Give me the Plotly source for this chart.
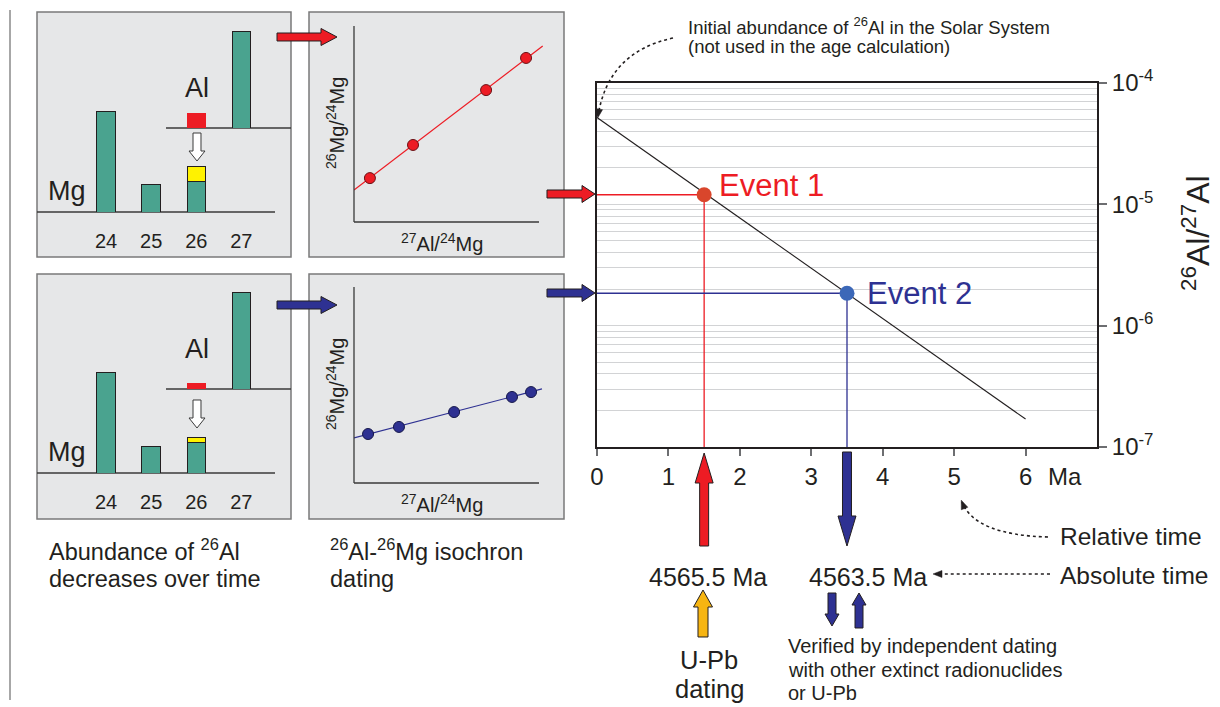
import math
import plotly.graph_objects as go

W, H = 1220, 707


def X(p):
    return p / W


def Y(p):
    return 1 - p / H


# ---------------- data ----------------
mass_numbers = [24, 25, 26, 27]
mass_labels = ["24", "25", "26", "27"]
mg_isotopes = [24, 25, 26]

# early stage (top left panel), arbitrary abundance units
mg_early = [101, 28, 31]
mg26_excess_early = [15]
al26_early = [15]
al27_early = [97]
# later stage (bottom left panel)
mg_late = [101, 27, 31]
mg26_excess_late = [5]
al26_late = [6]
al27_late = [97]

# isochrons
iso1_x = [0.86, 3.19, 7.14, 9.30]
iso1_y = [2.24, 3.93, 6.73, 8.37]
iso1_fit_x = [0, 10.2]
iso1_fit_y = [1.63, 8.98]
iso2_x = [0.76, 2.43, 5.41, 8.54, 9.57]
iso2_y = [2.50, 2.86, 3.62, 4.39, 4.64]
iso2_fit_x = [0, 10.16]
iso2_fit_y = [2.30, 4.80]

# main decay plot
decay_t = [0, 6]
decay_ratio = [5.2e-5, 1.7e-7]
event_t = [1.5, 3.5]
event_ratio = [1.2e-5, 1.85e-6]
event_names = ["Event 1", "Event 2"]
event_ages = ["4565.5 Ma", "4563.5 Ma"]
x_ticks = [0, 1, 2, 3, 4, 5, 6]
y_ticks = [1e-7, 1e-6, 1e-5, 1e-4]
y_ticktext = ["10<sup>-7</sup>", "10<sup>-6</sup>", "10<sup>-5</sup>", "10<sup>-4</sup>"]

# ---------------- style ----------------
FONT = "Liberation Sans, Arial, sans-serif"
TXT = "#231f20"
TEAL = "#4aa38f"
RED = "#ed1c24"
BLUE = "#2e3192"
YEL = "#fff200"
ORANGE = "#f7b512"
PANEL = "#e6e7e8"
EDGE = "#231f20"

XR = (0, 7)
XD = (597, 1097)


def xpx(t):
    return XD[0] + (t - XR[0]) / (XR[1] - XR[0]) * (XD[1] - XD[0])


fig = go.Figure()

# ---------- bar panels ----------
def bar_panel(xa, ya_mg, ya_al, mg, excess, al26, al27):
    fig.add_trace(go.Bar(x=mg_isotopes, y=mg, width=0.41, marker=dict(color=TEAL, line=dict(color=EDGE, width=1)),
                         xaxis=xa, yaxis=ya_mg, showlegend=False, hoverinfo="skip"))
    fig.add_trace(go.Bar(x=[26], y=excess, width=0.41, marker=dict(color=YEL, line=dict(color=EDGE, width=1)),
                         xaxis=xa, yaxis=ya_mg, showlegend=False, hoverinfo="skip"))
    fig.add_trace(go.Bar(x=[26], y=al26, width=0.41, marker=dict(color=RED, line=dict(color=RED, width=0.5)),
                         xaxis=xa, yaxis=ya_al, showlegend=False, hoverinfo="skip"))
    fig.add_trace(go.Bar(x=[27], y=al27, width=0.41, marker=dict(color=TEAL, line=dict(color=EDGE, width=1)),
                         xaxis=xa, yaxis=ya_al, showlegend=False, hoverinfo="skip"))


bar_panel("x2", "y2", "y3", mg_early, mg26_excess_early, al26_early, al27_early)
bar_panel("x3", "y4", "y5", mg_late, mg26_excess_late, al26_late, al27_late)


# ---------- isochron panels ----------
def iso_panel(xa, ya, xs, ys, fx, fy, col, mline):
    fig.add_trace(go.Scatter(x=fx, y=fy, mode="lines", line=dict(color=col, width=1.2),
                             xaxis=xa, yaxis=ya, showlegend=False, hoverinfo="skip"))
    fig.add_trace(go.Scatter(x=xs, y=ys, mode="markers",
                             marker=dict(size=11, color=col, line=dict(color=mline, width=1)),
                             xaxis=xa, yaxis=ya, showlegend=False, cliponaxis=False))


iso_panel("x4", "y6", iso1_x, iso1_y, iso1_fit_x, iso1_fit_y, RED, "#6b1014")
iso_panel("x5", "y7", iso2_x, iso2_y, iso2_fit_x, iso2_fit_y, BLUE, "#15174a")

# ---------- main decay plot ----------
fig.add_trace(go.Scatter(x=decay_t, y=decay_ratio, mode="lines", line=dict(color=TXT, width=1.1),
                         xaxis="x", yaxis="y", showlegend=False))
ev_cols = [RED, BLUE]
ev_fill = ["#d9462c", "#3c68b8"]
for t, r, c in zip(event_t, event_ratio, ev_cols):
    fig.add_trace(go.Scatter(x=[0, t, t], y=[r, r, y_ticks[0]], mode="lines", line=dict(color=c, width=1.3),
                             xaxis="x", yaxis="y", showlegend=False))
fig.add_trace(go.Scatter(x=event_t, y=event_ratio, mode="markers",
                         marker=dict(size=15, color=ev_fill, line=dict(width=0)),
                         xaxis="x", yaxis="y", showlegend=False, cliponaxis=False))

# ---------- shapes ----------
shapes = []


def rect(x0, y0, x1, y1, fill, line, lw=1.5, layer="below"):
    shapes.append(dict(type="rect", xref="paper", yref="paper", x0=X(x0), x1=X(x1), y0=Y(y1), y1=Y(y0),
                       fillcolor=fill, line=dict(color=line, width=lw), layer=layer))


def seg(x0, y0, x1, y1, col, lw=1.2, dash="solid", layer="above"):
    shapes.append(dict(type="line", xref="paper", yref="paper", x0=X(x0), x1=X(x1), y0=Y(y0), y1=Y(y1),
                       line=dict(color=col, width=lw, dash=dash), layer=layer))


def poly(pts):
    return "M " + " L ".join(f"{X(a):.5f},{Y(b):.5f}" for a, b in pts) + " Z"


def block_arrow(x0, y0, x1, y1, sw, hw, hl, fill, line=EDGE, lw=1):
    dx, dy = x1 - x0, y1 - y0
    L = math.hypot(dx, dy)
    ux, uy = dx / L, dy / L
    nx, ny = -uy, ux
    bx, by = x1 - ux * hl, y1 - uy * hl
    pts = [(x0 + nx * sw / 2, y0 + ny * sw / 2), (bx + nx * sw / 2, by + ny * sw / 2),
           (bx + nx * hw / 2, by + ny * hw / 2), (x1, y1),
           (bx - nx * hw / 2, by - ny * hw / 2), (bx - nx * sw / 2, by - ny * sw / 2),
           (x0 - nx * sw / 2, y0 - ny * sw / 2)]
    shapes.append(dict(type="path", xref="paper", yref="paper", path=poly(pts), fillcolor=fill,
                       line=dict(color=line, width=lw), layer="above"))


def dotted_curve(x0, y0, cx, cy, x1, y1, head=9, hw=7):
    path = f"M {X(x0):.5f},{Y(y0):.5f} Q {X(cx):.5f},{Y(cy):.5f} {X(x1):.5f},{Y(y1):.5f}"
    shapes.append(dict(type="path", xref="paper", yref="paper", path=path,
                       line=dict(color=TXT, width=1.6, dash="dot"), layer="above"))
    dx, dy = x1 - cx, y1 - cy
    L = math.hypot(dx, dy)
    ux, uy = dx / L, dy / L
    nx, ny = -uy, ux
    ex, ey = x1 + ux * 2, y1 + uy * 2
    bx, by = ex - ux * head, ey - uy * head
    pts = [(ex, ey), (bx + nx * hw / 2, by + ny * hw / 2), (bx - nx * hw / 2, by - ny * hw / 2)]
    shapes.append(dict(type="path", xref="paper", yref="paper", path=poly(pts), fillcolor=TXT,
                       line=dict(color=TXT, width=0.5), layer="above"))


# left border
seg(10, 10, 10, 700, "#8a8a8a", 1.5)
# panels
for (a, b, c, d) in [(37, 12, 291, 257), (309, 12, 564, 257), (37, 274, 291, 519), (309, 274, 564, 519)]:
    rect(a, b, c, d, PANEL, "#7a7a7a", 1.5)
# baselines of bar panels
for mg_y, al_y in [(212, 128), (473, 389)]:
    seg(37, mg_y, 275, mg_y, "#3a3a3a", 1.3, layer="below")
    seg(166, al_y, 291, al_y, "#3a3a3a", 1.3, layer="below")
# isochron axes
for top, bot in [(26, 222), (287, 483)]:
    seg(354, top, 354, bot, "#3a3a3a", 1.3)
    seg(354, bot, 539, bot, "#3a3a3a", 1.3)

# decay arrows (white) in bar panels
block_arrow(197, 133, 197, 161, 8, 16, 10, "white", "#3a3a3a", 1)
block_arrow(197, 400, 197, 428, 8, 16, 10, "white", "#3a3a3a", 1)
# arrows panel -> panel
block_arrow(277, 37, 337, 37, 8, 17, 16, RED)
block_arrow(277, 305, 337, 305, 8, 17, 16, BLUE)
block_arrow(547, 194, 595, 194, 8, 17, 13, RED)
block_arrow(547, 293, 595, 293, 8, 17, 13, BLUE)
# arrows below main plot
block_arrow(xpx(event_t[0]), 546, xpx(event_t[0]), 453, 9, 18, 30, RED)
block_arrow(xpx(event_t[1]), 452, xpx(event_t[1]), 546, 9, 18, 30, BLUE)
block_arrow(703, 637, 703, 590, 10, 19, 17, ORANGE)
block_arrow(832, 593, 832, 626, 8, 14, 12, BLUE)
block_arrow(859, 628, 859, 593, 8, 14, 12, BLUE)

# dotted pointer arrows
dotted_curve(673, 38, 608, 52, 598, 116)
dotted_curve(1048, 537, 975, 535, 962, 502)
dotted_curve(1050, 574, 990, 574, 935, 574)

# ---------- annotations ----------
ann = []


def text(x, y, s, size, color=TXT, xanchor="left", angle=0):
    ann.append(dict(x=X(x), y=Y(y), xref="paper", yref="paper", text=s, showarrow=False,
                    font=dict(family=FONT, size=size, color=color), xanchor=xanchor, yanchor="middle",
                    textangle=angle))


for yy in (0, 261):
    text(67, 191 + yy, "Mg", 27, xanchor="center")
    text(197, 88 + yy, "Al", 27, xanchor="center")
    text(335, 123 + yy, "<sup>26</sup>Mg/<sup>24</sup>Mg", 20, xanchor="center", angle=-90)
    text(442, 242 + yy, "<sup>27</sup>Al/<sup>24</sup>Mg", 20, xanchor="center")

text(47, 550, "Abundance of <sup>26</sup>Al", 23.5)
text(47, 579, "decreases over time", 23.5)
text(328, 550, "<sup>26</sup>Al-<sup>26</sup>Mg isochron", 23.5)
text(328, 579, "dating", 23.5)

text(686, 26, "Initial abundance of <sup>26</sup>Al in the Solar System", 18.5)
text(686, 47, "(not used in the age calculation)", 18.5)

text(1065, 476, "Ma", 24, xanchor="center")
text(1196, 233, "<sup>26</sup>Al/<sup>27</sup>Al", 32, xanchor="center", angle=-90)

text(1058, 536, "Relative time", 24.5)
text(1058, 575, "Absolute time", 24.5)

age_shift = [4, 21]
for t, s, sh in zip(event_t, event_ages, age_shift):
    text(xpx(t) + sh, 577, s, 25, xanchor="center")

text(709, 660, "U-Pb", 25.5, xanchor="center")
text(709, 689, "dating", 25.5, xanchor="center")

text(786, 646, "Verified by independent dating", 20)
text(786, 670, "with other extinct radionuclides", 20)
text(786, 693, "or U-Pb", 20)

ev_text_shift = [(13, 9), (18, 0)]
for t, r, nm, c, (sx, sy) in zip(event_t, event_ratio, event_names, ev_cols, ev_text_shift):
    ann.append(dict(x=t, y=math.log10(r), xref="x", yref="y", text=nm, showarrow=False, xanchor="left",
                    yanchor="middle", xshift=sx, yshift=sy, font=dict(family=FONT, size=31, color=c)))

minor_vals = [m * 10 ** e for e in (-7, -6, -5) for m in range(2, 10)]

hidden = dict(visible=False, fixedrange=True, automargin=False)

fig.update_layout(
    width=W, height=H,
    autosize=False,
    margin=dict(l=0, r=0, t=0, b=0, pad=0, autoexpand=False),
    paper_bgcolor="white", plot_bgcolor="rgba(0,0,0,0)",
    font=dict(family=FONT, color=TXT),
    barmode="stack",
    showlegend=False,
    shapes=shapes,
    annotations=ann,
    xaxis=dict(domain=[X(XD[0]), X(XD[1])], range=list(XR), anchor="y", tickvals=x_ticks,
               ticks="outside", ticklen=7, tickwidth=1.5, tickcolor="#6d6e71", automargin=False,
               showline=True, mirror=True, linecolor=TXT, linewidth=2,
               showgrid=False, zeroline=False, tickfont=dict(size=24, color=TXT)),
    yaxis=dict(domain=[Y(447), Y(83)], type="log", range=[-7, -4], anchor="x", side="right",
               tickvals=y_ticks, ticktext=y_ticktext, ticks="outside", ticklen=8, tickwidth=1.5,
               tickcolor="#6d6e71", showline=True, mirror=True, linecolor=TXT, linewidth=2,
               showgrid=True, gridcolor="#d2d3d5", gridwidth=1.2, zeroline=False, automargin=False,
               tickfont=dict(size=24, color=TXT),
               minor=dict(tickvals=minor_vals, showgrid=True, gridcolor="#d2d3d5", gridwidth=1.2, ticks="")),
    xaxis2=dict(domain=[X(37), X(291)], range=[22.47, 28.1], anchor="y2", tickvals=mass_numbers,
                ticktext=mass_labels, ticks="outside", ticklen=11, tickcolor="rgba(0,0,0,0)", automargin=False,
                showline=False, showgrid=False, zeroline=False, tickfont=dict(size=20, color=TXT), fixedrange=True),
    yaxis2=dict(domain=[Y(212), Y(12)], range=[0, 200], anchor="x2", **hidden),
    yaxis3=dict(domain=[Y(128), Y(12)], range=[0, 116], anchor="x2", **hidden),
    xaxis3=dict(domain=[X(37), X(291)], range=[22.47, 28.1], anchor="y4", tickvals=mass_numbers,
                ticktext=mass_labels, ticks="outside", ticklen=11, tickcolor="rgba(0,0,0,0)", automargin=False,
                showline=False, showgrid=False, zeroline=False, tickfont=dict(size=20, color=TXT), fixedrange=True),
    yaxis4=dict(domain=[Y(473), Y(273)], range=[0, 200], anchor="x3", **hidden),
    yaxis5=dict(domain=[Y(389), Y(273)], range=[0, 116], anchor="x3", **hidden),
    xaxis4=dict(domain=[X(354), X(545)], range=[0, 191 / 18.5], anchor="y6", **hidden),
    yaxis6=dict(domain=[Y(222), Y(26)], range=[0, 10], anchor="x4", **hidden),
    xaxis5=dict(domain=[X(354), X(545)], range=[0, 191 / 18.5], anchor="y7", **hidden),
    yaxis7=dict(domain=[Y(483), Y(287)], range=[0, 10], anchor="x5", **hidden),
)

fig.write_html("out.html", config={"displayModeBar": False},
               post_script="document.body.style.margin='0px';document.body.style.overflow='hidden';")
